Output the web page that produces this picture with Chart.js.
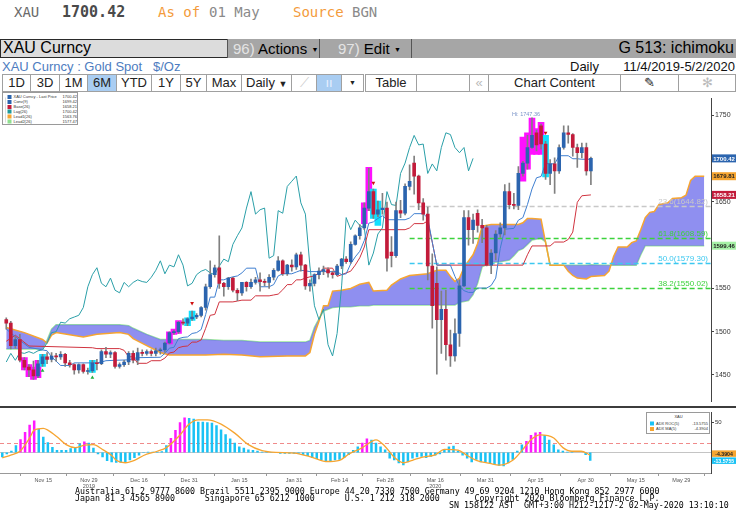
<!DOCTYPE html>
<html><head><meta charset="utf-8">
<script src="https://cdn.jsdelivr.net/npm/chart.js@4.4.1/dist/chart.umd.min.js"></script>
<style>
html,body{margin:0;padding:0;background:#fff;}
body{width:736px;height:530px;position:relative;overflow:hidden;font-family:"Liberation Sans Narrow","Liberation Sans",sans-serif;}
.a{position:absolute;white-space:pre;}
.mono{font-family:"DejaVu Sans Mono",monospace;}
.btn{position:absolute;top:74px;height:18px;box-sizing:border-box;border:1px solid #a0a0a0;background:#fff;font-size:13px;line-height:16px;text-align:center;color:#222;white-space:nowrap;overflow:hidden;}
.lgo{position:absolute;box-sizing:border-box;border:1px solid #9a9a9a;background:#fff;overflow:hidden;}
.lgi{position:absolute;left:0;top:0;transform:scale(0.5);transform-origin:0 0;font-family:"Liberation Sans",sans-serif;font-size:8px;color:#333;}
.foot{position:absolute;left:75px;font-family:"DejaVu Sans Mono",monospace;font-size:8.3px;line-height:8px;color:#000;white-space:pre;}
</style></head><body>

<div class="a mono" style="left:14px;top:4px;font-size:14px;color:#6a6a6a;">XAU</div>
<div class="a mono" style="left:62px;top:3px;font-size:15px;color:#4a4a4a;font-weight:bold;">1700.42</div>
<div class="a mono" style="left:158px;top:4px;font-size:14px;color:#f39b3b;">As of</div>
<div class="a mono" style="left:209px;top:4px;font-size:14px;color:#8a8a8a;">01 May</div>
<div class="a mono" style="left:293px;top:4px;font-size:14px;color:#f39b3b;">Source</div>
<div class="a mono" style="left:352px;top:4px;font-size:14px;color:#8a8a8a;">BGN</div>

<div class="a" style="left:0;top:39px;width:736px;height:19px;background:#a6a6a6;"></div>
<div class="a" style="left:0;top:39px;width:228px;height:19px;box-sizing:border-box;background:#dcdcdc;border:1px solid #2a2a2a;"></div>
<div class="a" style="left:3px;top:39px;font-size:16px;color:#000;">XAU Curncy</div>
<div class="a" style="left:227px;top:39px;width:1px;height:19px;background:#555;"></div>
<div class="a" style="left:233px;top:40px;font-size:15px;color:#000;"><span style="color:#e4e4e4">96)</span> Actions <span style="font-size:7px;vertical-align:2px">▼</span></div>
<div class="a" style="left:319px;top:39px;width:1px;height:19px;background:#555;"></div>
<div class="a" style="left:338px;top:40px;font-size:15px;color:#000;"><span style="color:#e4e4e4">97)</span> Edit <span style="font-size:7px;vertical-align:2px">▼</span></div>
<div class="a" style="left:411px;top:39px;width:1px;height:19px;background:#555;"></div>
<div class="a" style="right:2px;top:39px;font-size:16px;color:#000;">G 513: ichimoku</div>

<div class="a" style="left:2px;top:59px;font-size:13px;color:#4d7cc0;">XAU Curncy : Gold Spot   $/Oz</div>
<div class="a" style="left:570px;top:59px;font-size:13px;color:#111;">Daily</div>
<div class="a" style="right:1px;top:59px;font-size:13px;color:#111;">11/4/2019-5/2/2020</div>

<div class="btn" style="left:2px;width:29px;">1D</div>
<div class="btn" style="left:30px;width:30px;">3D</div>
<div class="btn" style="left:59px;width:29px;">1M</div>
<div class="btn" style="left:87px;width:30px;background:#a9cdf2;">6M</div>
<div class="btn" style="left:116px;width:36px;">YTD</div>
<div class="btn" style="left:151px;width:30px;">1Y</div>
<div class="btn" style="left:180px;width:27px;">5Y</div>
<div class="btn" style="left:206px;width:36px;">Max</div>
<div class="btn" style="left:241px;width:51px;text-align:left;padding-left:4px;">Daily <span style="font-size:9px">▼</span></div>
<div class="btn" style="left:291px;width:26px;color:#ccc;">⟋</div>
<div class="btn" style="left:316px;width:26px;background:#a9cdf2;color:#e8f0ff;">ıı</div>
<div class="btn" style="left:341px;width:23px;font-size:7px;">▼</div>
<div class="btn" style="left:365px;width:52px;">Table</div>
<div class="btn" style="left:416px;width:54px;"></div>
<div class="btn" style="left:469px;width:20px;color:#bbb;">«</div>
<div class="btn" style="left:488px;width:133px;">Chart Content</div>
<div class="btn" style="left:620px;width:59px;">✎</div>
<div class="btn" style="left:678px;width:58px;color:#bbb;">✻</div>

<canvas id="c1" width="736" height="314" style="position:absolute;left:0;top:93px;"></canvas>
<div class="a" style="left:0;top:406px;width:736px;height:2px;background:#3c3c3c;"></div>
<canvas id="c2" width="736" height="82" style="position:absolute;left:0;top:408px;"></canvas>

<div class="lgo" style="left:2px;top:92px;width:76px;height:33px;"><div class="lgi" id="leg" style="width:152px;height:66px;"></div></div>
<div class="lgo" style="left:646px;top:412px;width:64px;height:22px;"><div class="lgi" id="leg2" style="width:128px;height:44px;"></div></div>

<div class="foot" style="top:487px;">Australia 61 2 9777 8600 Brazil 5511 2395 9000 Europe 44 20 7330 7500 Germany 49 69 9204 1210 Hong Kong 852 2977 6000</div>
<div class="foot" style="top:494px;">Japan 81 3 4565 8900      Singapore 65 6212 1000      U.S. 1 212 318 2000       Copyright 2020 Bloomberg Finance L.P.</div>
<div class="foot" style="top:501px;left:449px;">SN 158122 AST  GMT+3:00 H212-1217-2 02-May-2020 13:10:10</div>

<script>
// ---------- categories: weekdays from 4 Nov 2019 (history + 26-period cloud projection) ----------
const categories = [];
(function(){ const d = new Date(Date.UTC(2019,10,4));
  while (categories.length < 156) { const w = d.getUTCDay(); if (w > 0 && w < 6) categories.push(d.toISOString().slice(0,10)); d.setUTCDate(d.getUTCDate()+1); } })();

// ---------- candles (XAU spot, daily) ----------
const open = [1514,1510,1484,1491,1467,1459,1456,1449,1463,1471,
 1468,1472,1471,1474,1464,1462,1456,1462,1454,1455,
 1464,1463,1477,1474,1476,1460,1462,1465,1475,1467,
 1476,1475,1477,1475,1478,1479,1487,1499,1500,1511,
 1510,1515,1517,1519,1528,1552,1566,1574,1556,1552,
 1562,1548,1545,1557,1552,1557,1560,1558,1557,1563,
 1571,1582,1567,1577,1575,1589,1577,1553,1556,1566,
 1570,1572,1568,1566,1576,1584,1581,1601,1611,1620,
 1643,1662,1636,1641,1643,1592,1588,1640,1637,1668,
 1695,1680,1649,1636,1576,1556,1514,1526,1485,1472,
 1498,1553,1632,1618,1637,1623,1620,1577,1591,1613,
 1620,1662,1647,1646,1683,1695,1713,1730,1738,1717,
 1683,1694,1686,1713,1730,1728,1713,1707,1713,1686];
const high = [1516,1512,1494,1497,1470,1462,1466,1467,1474,1476,
 1476,1475,1477,1475,1467,1463,1463,1463,1458,1467,
 1468,1479,1482,1478,1477,1464,1467,1477,1478,1481,
 1479,1479,1479,1481,1481,1488,1500,1502,1512,1515,
 1516,1524,1521,1529,1555,1582,1577,1611,1557,1563,
 1563,1550,1557,1558,1561,1563,1568,1561,1566,1573,
 1587,1583,1578,1583,1591,1592,1578,1560,1567,1574,
 1576,1574,1570,1578,1585,1587,1604,1612,1624,1649,
 1689,1665,1651,1660,1650,1610,1650,1652,1671,1693,
 1703,1681,1654,1644,1590,1575,1547,1548,1502,1515,
 1560,1640,1640,1636,1641,1630,1623,1595,1617,1626,
 1670,1672,1660,1691,1697,1727,1747.36,1733,1740,1720,
 1699,1701,1716,1738,1738,1729,1717,1718,1718,1702];
const low = [1503,1480,1481,1465,1456,1448,1445,1447,1460,1463,
 1465,1466,1468,1460,1459,1451,1452,1452,1451,1453,
 1456,1462,1470,1470,1458,1458,1460,1462,1464,1462,
 1472,1473,1472,1472,1474,1476,1486,1497,1498,1508,
 1507,1513,1515,1517,1525,1550,1563,1550,1541,1549,
 1546,1536,1542,1547,1550,1555,1547,1553,1550,1560,
 1570,1565,1565,1570,1572,1570,1549,1547,1553,1561,
 1566,1563,1562,1565,1573,1579,1579,1600,1607,1618,
 1640,1631,1633,1636,1570,1575,1586,1632,1635,1664,
 1659,1641,1629,1560,1504,1451,1475,1467,1460,1466,
 1483,1552,1600,1602,1615,1603,1576,1567,1583,1609,
 1612,1642,1642,1641,1680,1688,1712,1709,1711,1676,
 1670,1660,1683,1711,1718,1703,1690,1701,1681,1670];
const close = [1510,1484,1491,1467,1459,1456,1449,1463,1471,1468,
 1472,1471,1474,1464,1462,1456,1462,1454,1455,1464,
 1463,1477,1474,1476,1460,1462,1465,1475,1467,1476,
 1475,1477,1475,1478,1479,1487,1499,1500,1511,1510,
 1515,1517,1519,1528,1552,1566,1574,1556,1552,1562,
 1548,1545,1557,1552,1557,1560,1558,1557,1563,1571,
 1582,1567,1577,1575,1589,1577,1553,1556,1566,1570,
 1572,1568,1566,1576,1584,1581,1601,1611,1620,1643,
 1662,1636,1641,1643,1585,1588,1640,1637,1668,1674,
 1680,1649,1636,1576,1530,1514,1526,1485,1472,1498,
 1553,1632,1618,1629,1623,1620,1577,1591,1613,1620,
 1662,1647,1646,1683,1695,1713,1727,1716,1717,1683,
 1694,1686,1713,1730,1728,1713,1707,1713,1686,1700.42];

// ---------- Ichimoku lines (read at their vertices) ----------
const convIdx = [0,3,5,9,10,12,14,15,20,21,22,24,27,28,29,34,35,36,37,38,39,40,41,42,43,44,45,46,47,48,49,50,51,52,53,55,56,58,59,60,61,63,64,65,66,67,73,74,75,76,77,78,79,80,81,82,83,84,88,89,90,92,93,94,95,98,99,100,101,102,103,104,106,107,108,109,110,112,113,114,115,116,117,118,119,121,122,124,125,126,127,129];
const convVal = [1503,1490,1482,1478,1471,1461,1461,1464,1464,1465,1466.5,1467,1467.5,1469,1470,1470.5,1475,1481,1482,1492,1493.5,1494,1498,1499,1502.5,1520,1540,1540,1560,1560,1562,1563.5,1564.5,1568,1573.5,1573.5,1552,1552,1554.5,1564.5,1567,1567,1569,1571,1570.5,1569.5,1569.5,1566,1567,1578.5,1586.5,1593,1605.5,1625.5,1627,1631,1634,1629.5,1629.5,1631.5,1636.5,1636.5,1631.5,1603.5,1577,1577,1564,1552.5,1547.5,1545.5,1545.5,1550.5,1550.5,1553.5,1562,1596.5,1618.5,1619.5,1629,1632,1647,1665,1678,1679.5,1694.5,1694,1703.5,1703.5,1700,1700,1699.4,1699.42];
const baseIdx = [0,2,5,19,20,25,26,27,28,29,31,32,34,35,36,37,38,39,40,41,42,43,44,45,46,47,50,51,52,54,55,58,59,60,61,62,63,64,65,66,67,68,69,70,72,73,76,77,78,79,80,88,89,90,92,93,94,95,114,115,116,120,121,123,124,125,126,127,129];
const baseVal = [1489,1496,1483.5,1481.5,1480.5,1480.5,1478.5,1471,1471,1463.5,1463.5,1466.5,1466.5,1469.5,1475.5,1476.5,1481.5,1483,1483.5,1488,1488,1490.5,1504,1519,1520,1534.5,1534.5,1535.5,1536.5,1536.5,1541.5,1541.5,1542.5,1543.5,1548.5,1554.5,1554.5,1560,1560,1562,1563.5,1564.5,1568,1573.5,1573.5,1564,1570,1577,1585.5,1598,1618,1618,1620,1625,1625,1628,1603.5,1577,1577,1589,1599.2,1599.2,1603.7,1603.7,1606.7,1615.2,1649.7,1657.2,1658.21];
const lagShift = 26;
const leadIdx = [0,4,8,9,10,11,17,20,25,27,28,31,34,36,44,48,52,56,62,66,67,68,69,70,71,72,74,76,78,80,81,84,85,87,89,93,95,97,98,99,100,101,102,103,104,105,107,109,111,112,113,114,115,116,118,119,120,123,124,125,126,128,129,132,133,134,135,137,138,139,140,141,142,143,144,146,147,149,150,151,152,154];
const lead1 = [1505,1499,1491,1487,1496,1499,1494,1497,1499,1497,1492,1484,1476,1473,1473,1474,1473,1471,1472,1472,1476,1497,1512,1530,1530,1547,1548,1550,1555,1557,1547,1548,1554,1561,1565,1567,1571,1571,1564,1558,1562,1574,1582,1589,1602,1622,1624,1624,1624,1624,1624,1626,1631,1631,1630,1603,1577,1577,1570,1565,1562,1561,1563.76,1565,1570,1587,1598,1598,1603,1605,1618,1632,1638,1639,1647,1649,1654,1655,1658,1675,1679.81,1679.81];
const lead2 = [1480,1480,1480,1490,1503,1508,1508,1508,1508,1507,1504,1497,1491,1491,1491,1490,1490,1488,1488,1488,1490,1505,1515,1524,1526,1528,1529,1529,1530,1530,1531,1531,1531,1531,1531,1531,1531,1531,1531,1531,1534,1535,1536,1543,1556,1575,1580,1581,1583,1588,1594,1596,1601,1606,1608,1604,1577,1577,1577,1577,1577,1577,1577.47,1577,1577,1577,1577,1577,1577,1577,1589,1599.46,1599.46,1599.46,1599.46,1599.46,1599.46,1599.46,1599.46,1599.46,1599.46,1599.46];

// ---------- highlights & signals ----------
const hlIdx = [4,5,6,7,8,19,36,37,38,40,41,79,80,81,82,114,115,116,117,118,119];
const hlLo  = [1456,1448,1445,1447,1460,1453,1486,1497,1498,1507,1513,1625,1640,1631,1623,1674,1688,1705,1705,1705,1679];
const hlHi  = [1470,1462,1459,1467,1474,1467,1500,1503,1513,1516,1524,1649,1690,1665,1651,1725,1730,1747,1735,1742,1727];
const hlType = ['m','m','m','m','c','c','m','m','m','c','c','m','m','c','c','m','m','m','m','m','c'];
const sellIdx = [41,81,119], sellVal = [1533,1672,1730];
const buyIdx = [8,19], buyVal = [1455,1447];

// ---------- Fibonacci retracement ----------
const fibNames = ['23.6','61.8','50.0','38.2'];
const fibLevels = [1644.82,1608.59,1579.30,1550.02];
const fibStartIdx = 89;
const hiText = 'Hi: 1747.36';

const yTicks = [1450,1500,1550,1600,1650,1700,1750];

// ---------- lower panel: ADX ROC(5) and its MA(5) ----------
const roc = [-8,-3,3,12,22,34,46,53,39,26,
 17,9,4,4,4,7,9,15,18,16,
 8,-3,-8,-14,-16,-17,-17,-16,-13,-9,
 -5,-1,1,1,1,2,12,24,37,50,
 58,57,56,51,51,50,49,45,38,30,
 23,16,10,8,5,4,3,1,-1,-1,
 -1,-2,-2,-2,-2,-2,-4,-6,-9,-11,
 -13,-14,-14,-13,-12,-9,-4,4,10,16,
 23,21,16,10,5,-10,-13,-18,-21,-16,
 -10,-8,-7,-9,-7,-5,-3,4,10,11,
 3,-5,-10,-16,-12,-16,-17,-18,-19,-22,
 -23,-18,-12,3,13,19,29,33,34,29,
 21,13,5,3,1,1,0,0,-4,-13.5755];
const rocHot = [4,5,6,7,18,37,38,39,40,79,80,115,116,117,118];
const maIdx = [0,2,4,6,7,9,10,12,14,16,18,20,22,24,25,27,29,31,34,36,39,41,43,45,48,51,54,57,60,64,68,71,74,76,79,81,82,84,86,88,90,92,95,97,100,102,104,107,109,112,114,116,118,121,123,125,127,129];
const maVal = [-9,-4,3,24,37,40,37,26,13,8,12,13,5,-5,-13,-17,-13,-5,2,8,29,47,54,54,47,32,13,3,0,-1,-8,-15,-13,-3,8,18,21,10,-8,-17,-13,-8,-4,5,4,-5,-13,-18,-21,-13,3,21,29,24,8,2,2,-4.3904];
const rocThreshold = 16;
const lowerYTicks = [50];
const xTickDates = ['2019-11-15','2019-11-29','2019-12-16','2019-12-31','2020-01-15','2020-01-31','2020-02-14','2020-02-28','2020-03-16','2020-03-31','2020-04-15','2020-04-30','2020-05-15','2020-05-29'];
const xTickText  = ['Nov 15','Nov 29','Dec 16','Dec 31','Jan 15','Jan 31','Feb 14','Feb 28','Mar 16','Mar 31','Apr 15','Apr 30','May 15','May 29'];
const yearMarks = {'2019-11-29':'2019','2020-03-16':'2020'};

// ---------- legends ----------
const legNames = ['XAU Curncy - Last Price','Conv(9)','Base(26)','Lag(26)','Lead1(26)','Lead2(26)'];
const legValues = ['1700.42','1699.42','1658.21','1700.42','1563.76','1577.47'];
const legColors = ['#2b64ae','#2b64ae','#c21b3a','#1f9a9a','#f6a531','#8fe08f'];
const leg2Names = ['ADX ROC(5)','ADX MA(5)'];
const leg2Values = ['-13.5755','-4.3904'];
const leg2Colors = ['#19c2f5','#f6a531'];

// ---------- styles ----------
const C = {blue:'#2b64ae', red:'#c21b3a', wick:'#808080', conv:'#3f7fd0', base:'#d0333f', lag:'#2a9fa8',
  lead1:'#f6a531', lead2:'#9be79b', cloud:'rgba(112,112,236,0.78)', mag:'#ff10ff', cyan:'#10e0ff',
  fib:['#c8c8c8','#3cd23c','#3cc8f0','#3cd23c']};

// build legends (drawn at 2x then scaled by 0.5)
(function(){
  const l = document.getElementById('leg');
  let h = '<div style="position:absolute;left:5px;top:9px;width:1px;height:50px;background:#bbb"></div>';
  legNames.forEach((n,k)=>{
    const t = 3 + k*9.8;
    h += '<div style="position:absolute;left:9px;top:'+(t+1)+'px;width:8px;height:8px;background:'+legColors[k]+'"></div>'
       + '<div style="position:absolute;left:21px;top:'+t+'px;line-height:10px;">'+n+'</div>'
       + '<div style="position:absolute;right:4px;top:'+t+'px;line-height:10px;">'+legValues[k]+'</div>';
  });
  l.innerHTML = h;
  const l2 = document.getElementById('leg2');
  let h2 = '<div style="position:absolute;left:0;width:126px;top:3px;text-align:center;line-height:10px;">XAU</div>';
  leg2Names.forEach((n,k)=>{
    const t = 16 + k*11;
    h2 += '<div style="position:absolute;left:6px;top:'+(t+1)+'px;width:8px;height:8px;background:'+leg2Colors[k]+'"></div>'
        + '<div style="position:absolute;left:18px;top:'+t+'px;line-height:10px;">'+n+'</div>'
        + '<div style="position:absolute;right:6px;top:'+t+'px;line-height:10px;">'+leg2Values[k]+'</div>';
  });
  l2.innerHTML = h2;
})();

const pts = (idx, vals) => idx.map((i,k)=>({x: categories[i], y: vals[k]}));

function drawTag(ctx, xl, w, yc, h, txt, bg, fg, size) {
  ctx.fillStyle = bg; ctx.fillRect(xl, yc - h/2, w, h);
  ctx.fillStyle = fg; ctx.font = 'bold ' + size + 'px "Liberation Sans", sans-serif';
  ctx.textAlign = 'center'; ctx.textBaseline = 'middle';
  ctx.fillText(txt, xl + w/2, yc + 0.5);
}

const mainDecor = {
  id: 'mainDecor',
  afterDatasetDraw(chart, args) {
    if (args.index !== 1) return;
    const {ctx, chartArea: ca, scales: {x, y}} = chart;
    ctx.save();
    const x0 = x.getPixelForValue(fibStartIdx);
    fibLevels.forEach((lv, k) => {
      const py = Math.round(y.getPixelForValue(lv)) + 0.5;
      ctx.strokeStyle = C.fib[k]; ctx.lineWidth = 1.5; ctx.setLineDash([5,3]);
      ctx.beginPath(); ctx.moveTo(x0, py); ctx.lineTo(ca.right, py); ctx.stroke();
      ctx.setLineDash([]);
      ctx.font = '8px "Liberation Sans Narrow", "Liberation Sans", sans-serif';
      ctx.fillStyle = C.fib[k]; ctx.textAlign = 'right'; ctx.textBaseline = 'bottom';
      ctx.fillText(fibNames[k] + '(' + lv.toFixed(2) + ')', ca.right - 3, py - 0.5);
    });
    ctx.restore();
  },
  afterDraw(chart) {
    const {ctx, chartArea: ca, scales: {x, y}} = chart;
    ctx.save();
    let hiI = 0; high.forEach((v,i)=>{ if (v > high[hiI]) hiI = i; });
    ctx.font = '5.5px "Liberation Sans", sans-serif'; ctx.fillStyle = '#7a94c8';
    ctx.textAlign = 'center'; ctx.textBaseline = 'bottom';
    ctx.fillText(hiText, x.getPixelForValue(hiI) - 6, y.getPixelForValue(high[hiI]) - 1);
    const tags = [
      [close[close.length-1], C.blue, '#fff'],
      [lead1[lead1.length-1], C.lead1, '#222'],
      [baseVal[baseVal.length-1], C.red, '#fff'],
      [lead2[lead2.length-1], '#a6f0a6', '#222']
    ];
    tags.forEach(t => drawTag(ctx, ca.right + 1, 736 - ca.right - 1, y.getPixelForValue(t[0]), 8, t[0].toFixed(2), t[1], t[2], 6));
    ctx.restore();
  }
};

new Chart(document.getElementById('c1'), {
  type: 'bar',
  data: {
    labels: categories,
    datasets: [
      {type:'line', label:'Lead2', data: pts(leadIdx, lead2), borderColor: C.lead2, borderWidth: 1.5, pointRadius: 0, fill: false, order: 11},
      {type:'line', label:'Lead1', data: pts(leadIdx, lead1), borderColor: C.lead1, borderWidth: 1.5, pointRadius: 0,
        fill: {target: 0, above: C.cloud, below: C.cloud}, order: 10},
      {type:'bar', label:'hl', data: hlIdx.map((i,k)=>({x: categories[i], y: [hlLo[k], hlHi[k]]})),
        backgroundColor: hlType.map(t => t === 'm' ? C.mag : C.cyan), barThickness: 6, order: 9},
      {type:'line', label:'Lag', data: close.slice(lagShift).map((v,i)=>({x: categories[i], y: v})), borderColor: C.lag, borderWidth: 1, pointRadius: 0, order: 6},
      {type:'line', label:'Base', data: pts(baseIdx, baseVal), borderColor: C.base, borderWidth: 1, pointRadius: 0, order: 5},
      {type:'line', label:'Conv', data: pts(convIdx, convVal), borderColor: C.conv, borderWidth: 1, pointRadius: 0, order: 4},
      {type:'bar', label:'wick', data: low.map((l,i)=>[l, high[i]]), backgroundColor: C.wick, barThickness: 1, order: 3},
      {type:'bar', label:'body', data: open.map((o,i)=>[o, close[i]]), minBarLength: 1,
        backgroundColor: open.map((o,i)=> close[i] >= o ? C.blue : C.red), barThickness: 3, order: 2},
      {type:'line', label:'sell', data: pts(sellIdx, sellVal), showLine: false, pointStyle: 'triangle', rotation: 180,
        pointRadius: 2.2, pointBackgroundColor: '#d01010', pointBorderWidth: 0, order: 1},
      {type:'line', label:'buy', data: pts(buyIdx, buyVal), showLine: false, pointStyle: 'triangle',
        pointRadius: 2.2, pointBackgroundColor: '#20b040', pointBorderWidth: 0, order: 1}
    ]
  },
  options: {
    responsive: false, animation: false, events: [],
    layout: {padding: {top: 2, bottom: 2, left: 0, right: 0}},
    datasets: {bar: {grouped: false, borderWidth: 0}},
    plugins: {legend: {display: false}, tooltip: {enabled: false}},
    scales: {
      x: {type: 'category', display: false, offset: true},
      y: {position: 'right', min: 1419, max: 1770,
        afterBuildTicks: s => { s.ticks = yTicks.map(v => ({value: v})); },
        afterFit: s => { s.width = 25; },
        grid: {display: true, drawOnChartArea: false, drawTicks: true, tickLength: 3, color: '#444'},
        border: {display: true, color: '#444', width: 1},
        ticks: {font: {size: 7, family: 'Liberation Sans'}, color: '#333', padding: 1, callback: v => String(v)}
      }
    }
  },
  plugins: [mainDecor]
});

const lowDecor = {
  id: 'lowDecor',
  beforeDatasetsDraw(chart) {
    const {ctx, chartArea: ca, scales: {y}} = chart;
    ctx.save();
    const y0 = Math.round(y.getPixelForValue(0)) + 0.5;
    ctx.strokeStyle = '#c4c4c4'; ctx.lineWidth = 1;
    ctx.beginPath(); ctx.moveTo(ca.left, y0); ctx.lineTo(ca.right, y0); ctx.stroke();
    const yt = Math.round(y.getPixelForValue(rocThreshold)) + 0.5;
    ctx.strokeStyle = '#f08a8a'; ctx.setLineDash([4,3]);
    ctx.beginPath(); ctx.moveTo(ca.left, yt); ctx.lineTo(ca.right, yt); ctx.stroke();
    ctx.restore();
  },
  afterDraw(chart) {
    const {ctx, chartArea: ca, scales: {y}} = chart;
    ctx.save();
    const maLast = maVal[maVal.length-1], rocLast = roc[roc.length-1];
    const y1 = y.getPixelForValue(maLast) - 1.5;
    let y2 = y.getPixelForValue(rocLast);
    if (y2 < y1 + 6.5) y2 = y1 + 6.5;
    drawTag(ctx, ca.right + 1, 736 - ca.right - 1, y1, 6.5, maLast.toFixed(4), C.lead1, '#222', 5.2);
    drawTag(ctx, ca.right + 1, 736 - ca.right - 1, y2, 6.5, rocLast.toFixed(4), '#19c2f5', '#fff', 5.2);
    ctx.restore();
  }
};

new Chart(document.getElementById('c2'), {
  type: 'bar',
  data: {
    labels: categories,
    datasets: [
      {type:'line', label:'ADX MA(5)', data: pts(maIdx, maVal), borderColor: C.lead1, borderWidth: 1.3, pointRadius: 0,
        cubicInterpolationMode: 'monotone', order: 1},
      {type:'bar', label:'ADX ROC(5)', data: roc, backgroundColor: roc.map((v,i)=> rocHot.includes(i) ? '#ff19ff' : '#19c2f5'),
        barPercentage: 0.55, categoryPercentage: 1, borderWidth: 0, order: 2}
    ]
  },
  options: {
    responsive: false, animation: false, events: [],
    layout: {padding: {top: 2, bottom: 0, left: 0, right: 0}},
    plugins: {legend: {display: false}, tooltip: {enabled: false}},
    scales: {
      x: {type: 'category', offset: true,
        afterBuildTicks: s => { s.ticks = xTickDates.map(d => ({value: categories.indexOf(d)})); },
        afterFit: s => { s.height = 17; },
        ticks: {autoSkip: false, maxRotation: 0, padding: 1, font: {size: 5.5, family: 'Liberation Sans'}, color: '#555',
          callback: function(v) { const d = categories[v]; const k = xTickDates.indexOf(d); const t = xTickText[k];
            return yearMarks[d] ? [t, yearMarks[d]] : t; }},
        grid: {display: true, drawOnChartArea: false, tickLength: 3, color: '#999'},
        border: {display: true, color: '#999'}
      },
      y: {position: 'right', min: -34, max: 66,
        afterBuildTicks: s => { s.ticks = lowerYTicks.map(v => ({value: v})); },
        afterFit: s => { s.width = 25; },
        grid: {display: true, drawOnChartArea: false, tickLength: 3, color: '#444'},
        border: {display: true, color: '#444'},
        ticks: {font: {size: 6, family: 'Liberation Sans'}, color: '#333', padding: 1, callback: v => String(v)}
      }
    }
  },
  plugins: [lowDecor]
});
</script>
</body></html>
